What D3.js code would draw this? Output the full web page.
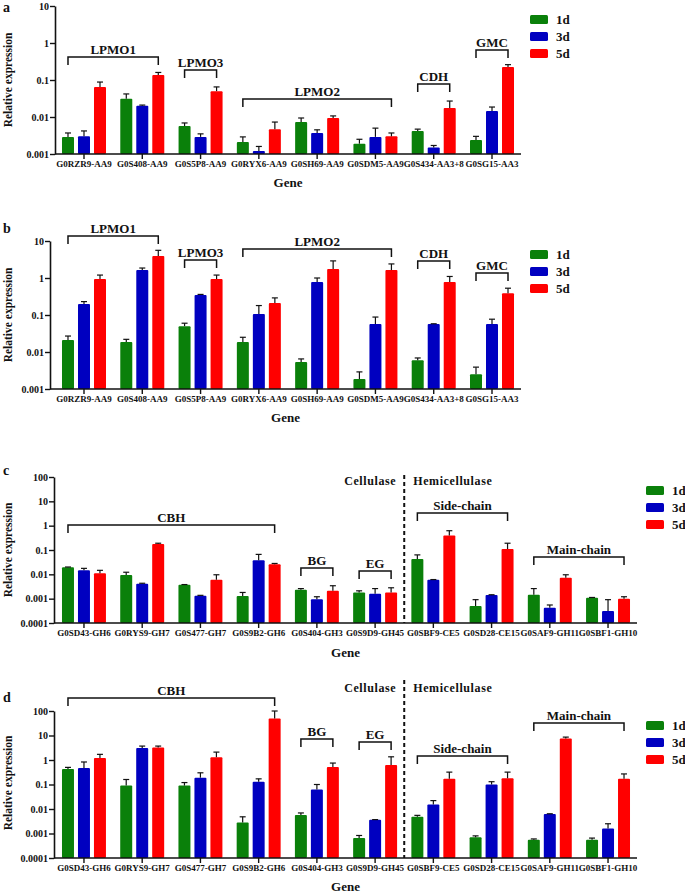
<!DOCTYPE html>
<html><head><meta charset="utf-8">
<script src="https://d3js.org/d3.v7.min.js"></script>
<style>
body{margin:0;background:#fff;}
svg{display:block;}
svg text{font-family:"Liberation Serif","Times New Roman",serif;font-weight:bold;}
</style></head>
<body><svg id="chart" width="685" height="895"></svg>
<script>
// ---------- data ----------
const seriesNames = ["1d", "3d", "5d"];
const seriesColors = ["#0a800a", "#0000c0", "#ff0000"];

const genesAB = ["G0RZR9-AA9","G0S408-AA9","G0S5P8-AA9","G0RYX6-AA9","G0SH69-AA9","G0SDM5-AA9","G0S434-AA3+8","G0SG15-AA3"];
const genesCD = ["G0SD43-GH6","G0RYS9-GH7","G0S477-GH7","G0S9B2-GH6","G0S404-GH3","G0S9D9-GH45","G0SBF9-CE5","G0SD28-CE15","G0SAF9-GH11","G0SBF1-GH10"];

const ticksAB = [0.001, 0.01, 0.1, 1, 10];
const tickLabelsAB = ["0.001", "0.01", "0.1", "1", "10"];
const ticksCD = [0.0001, 0.001, 0.01, 0.1, 1, 10, 100];
const tickLabelsCD = ["0.0001", "0.001", "0.01", "0.1", "1", "10", "100"];

// panel a (mean, upper end of error bar)
const aDay1   = [0.0029, 0.031, 0.0057, 0.0021, 0.0073, 0.0019, 0.0042, 0.0024];
const aDay1Up = [0.0037, 0.042, 0.0069, 0.0029, 0.0094, 0.0025, 0.0047, 0.0030];
const aDay3   = [0.0030, 0.020, 0.0029, 0.0012, 0.0037, 0.0029, 0.0015, 0.0145];
const aDay3Up = [0.0042, 0.021, 0.0035, 0.0016, 0.0045, 0.0050, 0.0017, 0.0186];
const aDay5   = [0.065, 0.137, 0.050, 0.0047, 0.0094, 0.0030, 0.0175, 0.225];
const aDay5Up = [0.088, 0.160, 0.065, 0.0073, 0.0107, 0.0037, 0.027, 0.26];

// panel b
const bDay1   = [0.021, 0.0186, 0.050, 0.0186, 0.0054, 0.00186, 0.0060, 0.0025];
const bDay1Up = [0.027, 0.022, 0.060, 0.025, 0.0065, 0.0029, 0.0069, 0.0039];
const bDay3   = [0.198, 1.64, 0.347, 0.106, 0.78, 0.057, 0.057, 0.057];
const bDay3Up = [0.23, 1.86, 0.36, 0.18, 1.0, 0.088, 0.058, 0.077];
const bDay5   = [0.94, 3.93, 0.94, 0.21, 1.75, 1.64, 0.78, 0.39];
const bDay5Up = [1.2, 5.6, 1.2, 0.29, 2.9, 2.4, 1.1, 0.53];

// panel c
const cDay1   = [0.0194, 0.0093, 0.0037, 0.0013, 0.00234, 0.0018, 0.043, 0.0005, 0.00146, 0.0011];
const cDay1Up = [0.020, 0.0122, 0.0038, 0.0018, 0.0026, 0.0021, 0.063, 0.00091, 0.0026, 0.00112];
const cDay3   = [0.0146, 0.0041, 0.00133, 0.0375, 0.00095, 0.0016, 0.0060, 0.0014, 0.00042, 0.00031];
const cDay3Up = [0.0176, 0.0043, 0.00137, 0.066, 0.0012, 0.0026, 0.0061, 0.00145, 0.00055, 0.00091];
const cDay5   = [0.0110, 0.176, 0.0060, 0.0257, 0.0021, 0.0018, 0.39, 0.11, 0.0073, 0.0010];
const cDay5Up = [0.0146, 0.19, 0.0096, 0.028, 0.0034, 0.0028, 0.62, 0.19, 0.0096, 0.0012];

// panel d
const dDay1   = [0.43, 0.091, 0.09, 0.0028, 0.0057, 0.00065, 0.0048, 0.0007, 0.00055, 0.00055];
const dDay1Up = [0.5, 0.16, 0.12, 0.0048, 0.0069, 0.00083, 0.0055, 0.0008, 0.0006, 0.00065];
const dDay3   = [0.47, 3.1, 0.19, 0.13, 0.063, 0.0036, 0.0153, 0.1, 0.0062, 0.0016];
const dDay3Up = [0.83, 3.7, 0.3, 0.17, 0.1, 0.0037, 0.022, 0.13, 0.0064, 0.0025];
const dDay5   = [1.2, 3.2, 1.3, 49, 0.52, 0.63, 0.17, 0.18, 7.5, 0.17];
const dDay5Up = [1.7, 3.7, 2.1, 100, 0.75, 1.35, 0.32, 0.32, 8.6, 0.27];

// group brackets: [label, first group, last group, level (data units)]
const bracketsA = [["LPMO1",0,1,0.418],["LPMO3",2,2,0.186],["LPMO2",3,5,0.0306],["CDH",6,6,0.078],["GMC",7,7,0.65]];
const bracketsB = [["LPMO1",0,1,13.6],["LPMO3",2,2,3.06],["LPMO2",3,5,6.06],["CDH",6,6,2.87],["GMC",7,7,1.36]];
const bracketsC = [["CBH",0,3,1.07],["BG",4,4,0.0182],["EG",5,5,0.0137],["Side-chain",6,7,3.31],["Main-chain",8,9,0.0516]];
const bracketsD = [["CBH",0,3,339],["BG",4,4,7.2],["EG",5,5,5.4],["Side-chain",6,7,1.45],["Main-chain",8,9,32]];

// ---------- drawing ----------
const FONT = "'Liberation Serif', 'Times New Roman', serif";
const svg = d3.select("#chart");
svg.append("rect").attr("width",685).attr("height",895).attr("fill","#fff");

const panels = [
  {letter:"a", letterY:12, genes:genesAB, means:[aDay1,aDay3,aDay5], ups:[aDay1Up,aDay3Up,aDay5Up], ticks:ticksAB, tickLabels:tickLabelsAB,
   yTop:6, yBot:154, axisX:55, xr:[55,521], brackets:bracketsA, legX:530, legY:15, geneY:187, ylabY:80, divider:null},
  {letter:"b", letterY:233, genes:genesAB, means:[bDay1,bDay3,bDay5], ups:[bDay1Up,bDay3Up,bDay5Up], ticks:ticksAB, tickLabels:tickLabelsAB,
   yTop:241, yBot:389, axisX:50, xr:[55,521], brackets:bracketsB, legX:530, legY:250, geneY:422, ylabY:315, divider:null},
  {letter:"c", letterY:475, genes:genesCD, means:[cDay1,cDay3,cDay5], ups:[cDay1Up,cDay3Up,cDay5Up], ticks:ticksCD, tickLabels:tickLabelsCD,
   yTop:477, yBot:623, axisX:54, xr:[55,637], brackets:bracketsC, legX:646, legY:486, geneY:657, ylabY:550, divider:{top:475, textY:485}},
  {letter:"d", letterY:702, genes:genesCD, means:[dDay1,dDay3,dDay5], ups:[dDay1Up,dDay3Up,dDay5Up], ticks:ticksCD, tickLabels:tickLabelsCD,
   yTop:711, yBot:858, axisX:54, xr:[55,637], brackets:bracketsD, legX:646, legY:721, geneY:891, ylabY:783, divider:{top:680, textY:692}}
];

panels.forEach(p => {
  const g = svg.append("g");
  const y = d3.scaleLog().domain([p.ticks[0], p.ticks[p.ticks.length-1]]).range([p.yBot, p.yTop]);
  const x0 = d3.scaleBand().domain(p.genes).range(p.xr).paddingInner(0.245).paddingOuter(0.12);
  const x1 = d3.scaleBand().domain(seriesNames).range([0, x0.bandwidth()]).paddingInner(0.25);

  // bars + error bars
  seriesNames.forEach((s, si) => {
    const rows = p.genes.map((gn, i) => ({gene:gn, v:p.means[si][i], u:p.ups[si][i]}));
    const sg = g.append("g");
    sg.selectAll("rect").data(rows).join("rect")
      .attr("x", d => x0(d.gene) + x1(s))
      .attr("y", d => y(d.v))
      .attr("width", x1.bandwidth())
      .attr("height", d => p.yBot - y(d.v))
      .attr("rx", 1)
      .attr("fill", seriesColors[si]);
    const cx = d => x0(d.gene) + x1(s) + x1.bandwidth()/2;
    sg.selectAll("line.e").data(rows).join("line").attr("class","e")
      .attr("x1", cx).attr("x2", cx).attr("y1", d => y(d.v)).attr("y2", d => y(d.u))
      .attr("stroke","#111").attr("stroke-width",1.2);
    sg.selectAll("line.c").data(rows).join("line").attr("class","c")
      .attr("x1", d => cx(d)-3).attr("x2", d => cx(d)+3).attr("y1", d => y(d.u)).attr("y2", d => y(d.u))
      .attr("stroke","#111").attr("stroke-width",1.2);
  });

  // y axis
  const yAxis = d3.axisLeft(y).tickValues(p.ticks).tickFormat((d,i) => p.tickLabels[i]).tickSize(5).tickSizeOuter(0);
  const ya = g.append("g").attr("transform",`translate(${p.axisX},0)`).call(yAxis);
  ya.attr("font-family", FONT);
  ya.select(".domain").attr("stroke","#111").attr("stroke-width",1.6);
  ya.selectAll(".tick line").attr("stroke","#111").attr("stroke-width",1.4);
  ya.selectAll("text").attr("font-size",10).attr("fill","#111").attr("x",-6);

  // x axis
  const xAxis = d3.axisBottom(x0).tickSize(5).tickSizeOuter(0);
  const xa = g.append("g").attr("transform",`translate(0,${p.yBot})`).call(xAxis);
  xa.attr("font-family", FONT);
  xa.select(".domain").attr("d", `M${p.axisX},0H${p.xr[1]}`).attr("stroke","#111").attr("stroke-width",1.6);
  xa.selectAll(".tick line").attr("stroke","#111").attr("stroke-width",1.4);
  xa.selectAll("text").attr("font-size",9).attr("fill","#111").attr("y",7);

  // axis titles
  g.append("text").attr("x",(p.axisX+p.xr[1])/2).attr("y",p.geneY).attr("text-anchor","middle")
    .attr("font-size",13).attr("fill","#111").text("Gene");
  g.append("text").attr("transform",`translate(12,${p.ylabY}) rotate(-90)`).attr("text-anchor","middle")
    .attr("font-size",11.5).attr("fill","#111").text("Relative expression");
  g.append("text").attr("x",3).attr("y",p.letterY).attr("font-size",14).attr("fill","#111").text(p.letter);

  // brackets
  p.brackets.forEach(([lab, i0, i1, lvl]) => {
    const xa0 = x0(p.genes[i0]) + x1("1d") + x1.bandwidth()/2;
    const xa1 = x0(p.genes[i1]) + x1("5d") + x1.bandwidth()/2;
    const yy = y(lvl);
    g.append("path").attr("d",`M${xa0},${yy+8}V${yy}H${xa1}V${yy+8}`)
      .attr("fill","none").attr("stroke","#111").attr("stroke-width",1.5);
    g.append("text").attr("x",(xa0+xa1)/2).attr("y",yy-3).attr("text-anchor","middle")
      .attr("font-size",13).attr("fill","#111").text(lab);
  });

  // divider
  if (p.divider) {
    const xd = (x0(p.genes[5]) + x0.bandwidth() + x0(p.genes[6]))/2;
    g.append("line").attr("x1",xd).attr("x2",xd).attr("y1",p.divider.top).attr("y2",p.yBot)
      .attr("stroke","#111").attr("stroke-width",2).attr("stroke-dasharray","4,3");
    g.append("text").attr("x",xd-8).attr("y",p.divider.textY).attr("text-anchor","end")
      .attr("font-size",12).attr("letter-spacing",0.6).attr("fill","#111").text("Cellulase");
    g.append("text").attr("x",xd+9).attr("y",p.divider.textY).attr("text-anchor","start")
      .attr("font-size",12).attr("letter-spacing",0.6).attr("fill","#111").text("Hemicellulase");
  }

  // legend
  seriesNames.forEach((s, si) => {
    const ly = p.legY + si*17;
    g.append("rect").attr("x",p.legX).attr("y",ly).attr("width",18).attr("height",9).attr("rx",1.5)
      .attr("fill",seriesColors[si]);
    g.append("text").attr("x",p.legX+26).attr("y",ly+9).attr("font-size",13).attr("fill","#111").text(s);
  });
});
svg.selectAll("text").attr("font-family", FONT).attr("font-weight","bold");
</script>
</body></html>
